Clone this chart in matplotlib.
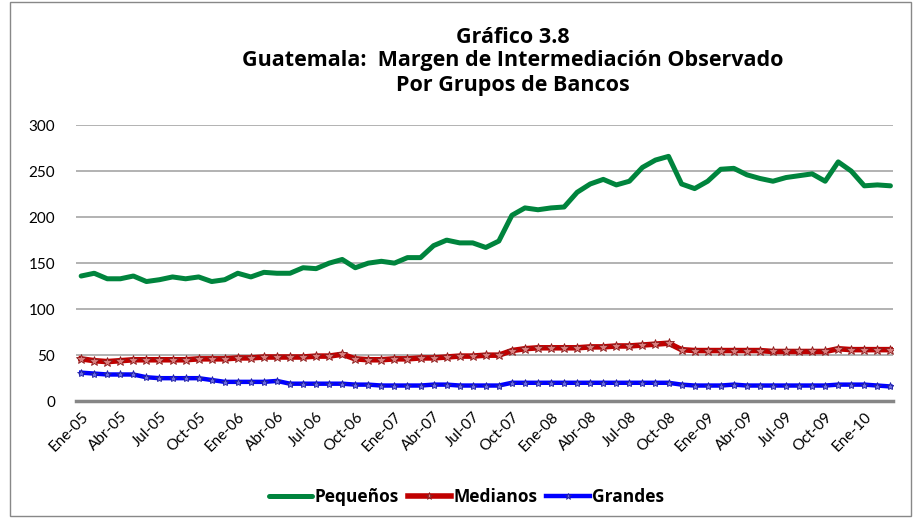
import matplotlib
matplotlib.use('Agg')
import matplotlib.pyplot as plt
from matplotlib.patches import Rectangle
import numpy as np

# monthly labels, Ene-05 .. Mar-10
meses = ['Ene', 'Feb', 'Mar', 'Abr', 'May', 'Jun', 'Jul', 'Ago', 'Sep', 'Oct', 'Nov', 'Dic']
labels = [m + '-' + str(y)[2:] for y in range(2005, 2011) for m in meses][:63]

pequenos = [136, 139, 133, 133, 136, 130, 132, 135, 133, 135, 130, 132,
            139, 135, 140, 139, 139, 145, 144, 150, 154, 145, 150, 152,
            150, 156, 156, 169, 175, 172, 172, 167, 174, 202, 210, 208,
            210, 211, 227, 236, 241, 235, 239, 254, 262, 266, 236, 231,
            239, 252, 253, 246, 242, 239, 243, 245, 247, 239, 260, 250,
            234, 235, 234]

medianos = [46, 44, 43, 44, 45, 45, 45, 45, 45, 46, 46, 46,
            47, 47, 48, 48, 48, 48, 49, 49, 51, 46, 45, 45,
            46, 46, 47, 47, 48, 49, 49, 50, 50, 55, 57, 58,
            58, 58, 58, 59, 59, 60, 60, 61, 62, 63, 56, 55,
            55, 55, 55, 55, 55, 54, 54, 54, 54, 54, 57, 56,
            56, 56, 56]

grandes = [31, 30, 29, 29, 29, 26, 25, 25, 25, 25, 23, 21,
           21, 21, 21, 22, 19, 19, 19, 19, 19, 18, 18, 17,
           17, 17, 17, 18, 18, 17, 17, 17, 17, 20, 20, 20,
           20, 20, 20, 20, 20, 20, 20, 20, 20, 20, 18, 17,
           17, 17, 18, 17, 17, 17, 17, 17, 17, 17, 18, 18,
           18, 17, 16]

x = np.arange(len(labels))

plt.rcParams['font.family'] = ['Lato', 'DejaVu Sans']

fig = plt.figure(figsize=(9.15, 5.19), dpi=100)
ax = fig.add_axes([0.083, 0.227, 0.893, 0.532])

ax.plot(x, pequenos, color='#00843D', lw=3.6, label='Pequeños', solid_capstyle='round', zorder=3)
ax.plot(x, medianos, color='#C00000', lw=4.0, marker='*', ms=7,
        mfc='#D98080', mec='#8B1A1A', mew=0.6, label='Medianos', zorder=3)
ax.plot(x, grandes, color='#0000FF', lw=3.2, marker='*', ms=6,
        mfc='#6A6AE0', mec='#2020A0', mew=0.6, label='Grandes', zorder=3)

ax.set_ylim(0, 300)
ax.set_yticks(range(0, 301, 50))
ax.set_xlim(-0.4, 62.2)
ax.set_xticks(x[::3])
ax.set_xticklabels(labels[::3], rotation=45, ha='right', rotation_mode='anchor')
ax.tick_params(axis='both', length=0, labelsize=11, colors='black')
ax.tick_params(axis='y', pad=15)
ax.tick_params(axis='x', pad=6)

ax.grid(axis='y', color='#A6A6A6', lw=1.2)
for s in ['top', 'right', 'left']:
    ax.spines[s].set_visible(False)
ax.spines['bottom'].set_color('#868686')
ax.spines['bottom'].set_linewidth(2.5)

title_font = {'family': ['Open Sans', 'DejaVu Sans'], 'weight': 'bold', 'size': 15.5}
fig.text(0.56, 0.927, 'Gráfico 3.8', ha='center', va='center', fontdict=title_font)
fig.text(0.56, 0.884, 'Guatemala:  Margen de Intermediación Observado', ha='center', va='center', fontdict=title_font)
fig.text(0.56, 0.836, 'Por Grupos de Bancos', ha='center', va='center', fontdict=title_font)

leg = fig.legend(loc='center', bbox_to_anchor=(0.51, 0.042), ncol=3, frameon=False,
                 prop={'family': ['Open Sans', 'DejaVu Sans'], 'weight': 'bold', 'size': 12.5},
                 handlelength=2.5, handletextpad=0.15, columnspacing=0.5, markerscale=0.8)

fig.patches.append(Rectangle((0.011, 0.006), 0.985, 0.99, transform=fig.transFigure,
                             fill=False, edgecolor='#888888', lw=1))

fig.savefig('out.png', dpi=100)
